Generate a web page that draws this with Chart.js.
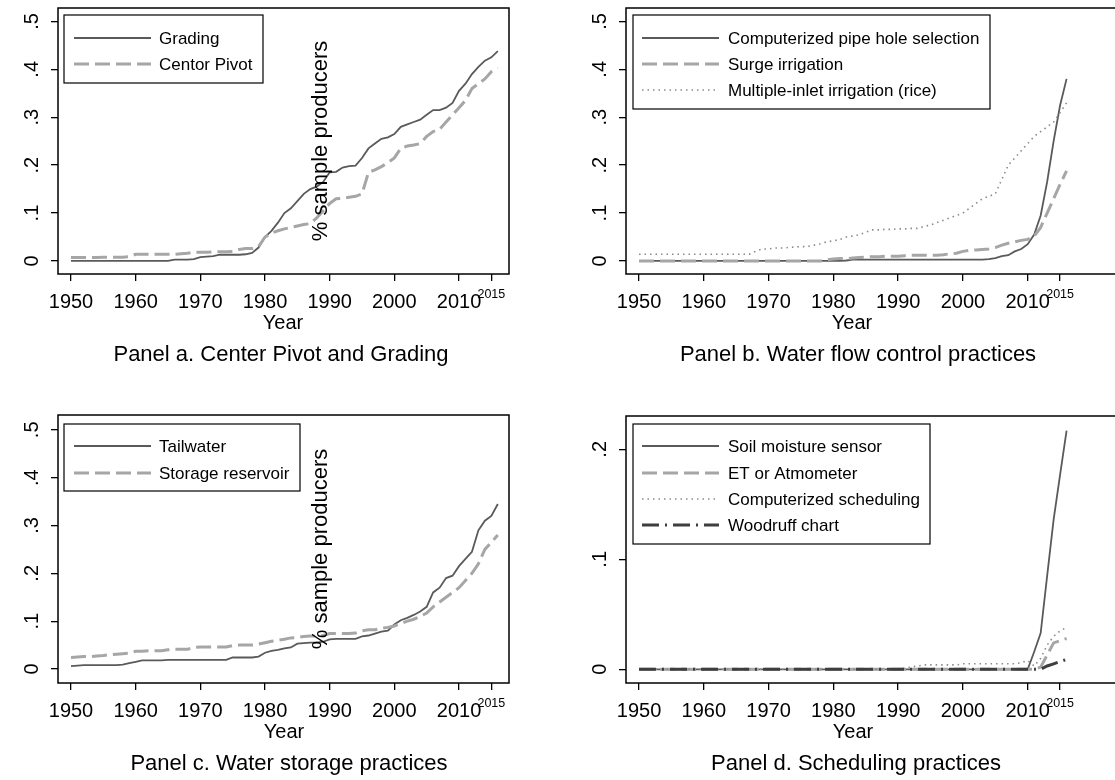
<!DOCTYPE html>
<html>
<head>
<meta charset="utf-8">
<script src="https://cdn.jsdelivr.net/npm/chart.js@4.4.0/dist/chart.umd.min.js"></script>
<style>
    body { margin: 0; width: 1115px; height: 780px; overflow: hidden; background: #fff; position: relative; }
    canvas { position: absolute; }
</style>
</head>
<body>
<canvas id="panel-a" width="556" height="390" style="left:0;top:0;width:556px;height:390px"></canvas>
<canvas id="panel-b" width="580" height="390" style="left:556px;top:0;width:580px;height:390px"></canvas>
<canvas id="panel-c" width="556" height="390" style="left:0;top:390px;width:556px;height:390px"></canvas>
<canvas id="panel-d" width="580" height="390" style="left:556px;top:390px;width:580px;height:390px"></canvas>
<script>
// years 1950..2016, one value per year in every series below
var years = []
for (var yr = 1950; yr <= 2016; yr++) years.push(yr)

var xTicks = [1950, 1960, 1970, 1980, 1990, 2000, 2010, 2015]
var yTicksHalf = [0, 0.1, 0.2, 0.3, 0.4, 0.5]
var yLabelsHalf = ['0', '.1', '.2', '.3', '.4', '.5']
var yTicksSched = [0, 0.1, 0.2]
var yLabelsSched = ['0', '.1', '.2']

// Panel a
var grading = [
    0, 0, 0, 0, 0, 0, 0, 0, 0, 0,
    0, 0, 0, 0, 0, 0, 0.003, 0.003, 0.003, 0.004,
    0.008, 0.009, 0.010, 0.013, 0.013, 0.013, 0.013, 0.014, 0.017, 0.028,
    0.050, 0.063, 0.080, 0.100, 0.110, 0.125, 0.140, 0.150, 0.155, 0.165,
    0.185, 0.186, 0.195, 0.198, 0.199, 0.215, 0.235, 0.245, 0.255, 0.258,
    0.265, 0.280, 0.285, 0.290, 0.295, 0.305, 0.315, 0.315, 0.320, 0.330,
    0.355, 0.370, 0.390, 0.405, 0.418, 0.425, 0.438]
var centerPivot = [
    0.007, 0.007, 0.007, 0.007, 0.007, 0.008, 0.008, 0.008, 0.008, 0.009,
    0.014, 0.014, 0.014, 0.014, 0.014, 0.014, 0.014, 0.015, 0.016, 0.018,
    0.018, 0.018, 0.019, 0.019, 0.019, 0.020, 0.024, 0.026, 0.026, 0.030,
    0.050, 0.058, 0.063, 0.067, 0.070, 0.073, 0.076, 0.078, 0.090, 0.105,
    0.120, 0.130, 0.131, 0.133, 0.135, 0.140, 0.185, 0.190, 0.197, 0.205,
    0.215, 0.235, 0.240, 0.242, 0.245, 0.260, 0.270, 0.275, 0.290, 0.305,
    0.320, 0.335, 0.360, 0.370, 0.380, 0.395, 0.402]

// Panel b
var pipeHole = [
    0, 0, 0, 0, 0, 0, 0, 0, 0, 0,
    0, 0, 0, 0, 0, 0, 0, 0, 0, 0,
    0, 0, 0, 0, 0, 0, 0, 0, 0, 0,
    0, 0, 0.001, 0.003, 0.003, 0.003, 0.003, 0.003, 0.003, 0.003,
    0.003, 0.003, 0.003, 0.003, 0.003, 0.003, 0.003, 0.003, 0.003, 0.003,
    0.003, 0.003, 0.003, 0.003, 0.004, 0.006, 0.010, 0.012, 0.020, 0.025,
    0.035, 0.055, 0.095, 0.165, 0.250, 0.325, 0.380]
var surge = [
    0, 0, 0, 0, 0, 0, 0, 0, 0, 0,
    0, 0, 0, 0, 0, 0, 0, 0, 0, 0,
    0, 0, 0, 0, 0, 0, 0, 0, 0, 0.002,
    0.004, 0.005, 0.005, 0.006, 0.007, 0.008, 0.009, 0.009, 0.010, 0.010,
    0.010, 0.011, 0.012, 0.012, 0.012, 0.012, 0.012, 0.013, 0.015, 0.016,
    0.020, 0.022, 0.023, 0.024, 0.025, 0.028, 0.033, 0.037, 0.040, 0.043,
    0.045, 0.052, 0.070, 0.100, 0.130, 0.160, 0.188]
var multiInlet = [
    0.014, 0.014, 0.014, 0.014, 0.014, 0.014, 0.014, 0.014, 0.014, 0.014,
    0.014, 0.014, 0.014, 0.014, 0.014, 0.014, 0.014, 0.014, 0.020, 0.025,
    0.025, 0.027, 0.027, 0.028, 0.029, 0.030, 0.030, 0.033, 0.036, 0.040,
    0.042, 0.045, 0.050, 0.052, 0.055, 0.060, 0.065, 0.065, 0.066, 0.066,
    0.067, 0.067, 0.068, 0.068, 0.072, 0.075, 0.080, 0.085, 0.090, 0.095,
    0.100, 0.110, 0.120, 0.130, 0.135, 0.140, 0.170, 0.200, 0.215, 0.230,
    0.245, 0.260, 0.270, 0.280, 0.290, 0.310, 0.330]

// Panel c
var tailwater = [
    0.006, 0.007, 0.008, 0.008, 0.008, 0.008, 0.008, 0.008, 0.009, 0.012,
    0.015, 0.018, 0.018, 0.018, 0.018, 0.019, 0.019, 0.019, 0.019, 0.019,
    0.019, 0.019, 0.019, 0.019, 0.019, 0.024, 0.024, 0.024, 0.024, 0.026,
    0.034, 0.038, 0.040, 0.043, 0.045, 0.053, 0.054, 0.055, 0.055, 0.057,
    0.062, 0.063, 0.063, 0.063, 0.063, 0.068, 0.070, 0.074, 0.078, 0.080,
    0.093, 0.102, 0.107, 0.113, 0.120, 0.130, 0.160, 0.170, 0.190, 0.195,
    0.215, 0.230, 0.245, 0.290, 0.310, 0.320, 0.345]
var storageRes = [
    0.024, 0.025, 0.026, 0.026, 0.027, 0.028, 0.030, 0.031, 0.032, 0.033,
    0.037, 0.037, 0.038, 0.038, 0.038, 0.040, 0.041, 0.041, 0.041, 0.045,
    0.046, 0.046, 0.046, 0.046, 0.046, 0.049, 0.050, 0.050, 0.050, 0.052,
    0.055, 0.058, 0.060, 0.062, 0.065, 0.066, 0.068, 0.069, 0.069, 0.070,
    0.074, 0.074, 0.074, 0.074, 0.075, 0.080, 0.082, 0.082, 0.085, 0.087,
    0.090, 0.095, 0.100, 0.104, 0.110, 0.117, 0.130, 0.140, 0.150, 0.160,
    0.170, 0.185, 0.200, 0.220, 0.250, 0.265, 0.280]

// Panel d
var soilMoisture = [
    0, 0, 0, 0, 0, 0, 0, 0, 0, 0,
    0, 0, 0, 0, 0, 0, 0, 0, 0, 0,
    0, 0, 0, 0, 0, 0, 0, 0, 0, 0,
    0, 0, 0, 0, 0, 0, 0, 0, 0, 0,
    0, 0, 0, 0, 0, 0, 0, 0, 0, 0,
    0, 0, 0, 0, 0, 0, 0, 0, 0, 0,
    0, 0.016, 0.033, 0.085, 0.136, 0.177, 0.217]
var etAtmometer = [
    0, 0, 0, 0, 0, 0, 0, 0, 0, 0,
    0, 0, 0, 0, 0, 0, 0, 0, 0, 0,
    0, 0, 0, 0, 0, 0, 0, 0, 0, 0,
    0, 0, 0, 0, 0, 0, 0, 0, 0, 0,
    0, 0, 0, 0, 0, 0, 0, 0, 0, 0,
    0, 0, 0, 0, 0, 0, 0, 0, 0, 0,
    0, 0, 0.002, 0.013, 0.024, 0.026, 0.028]
var compSched = [
    0, 0, 0, 0, 0, 0, 0, 0, 0, 0,
    0, 0, 0, 0, 0, 0, 0, 0, 0, 0,
    0, 0, 0, 0, 0, 0, 0, 0, 0, 0,
    0, 0, 0, 0, 0, 0, 0, 0, 0, 0,
    0, 0.001, 0.002, 0.003, 0.004, 0.004, 0.004, 0.004, 0.004, 0.004,
    0.005, 0.005, 0.005, 0.005, 0.005, 0.005, 0.005, 0.005, 0.005, 0.006,
    0.008, 0.003, 0.010, 0.022, 0.030, 0.035, 0.038]
var woodruff = [
    0, 0, 0, 0, 0, 0, 0, 0, 0, 0,
    0, 0, 0, 0, 0, 0, 0, 0, 0, 0,
    0, 0, 0, 0, 0, 0, 0, 0, 0, 0,
    0, 0, 0, 0, 0, 0, 0, 0, 0, 0,
    0, 0, 0, 0, 0, 0, 0, 0, 0, 0,
    0, 0, 0, 0, 0, 0, 0, 0, 0, 0,
    0, 0, 0, 0.003, 0.005, 0.007, 0.009]

var FONT = '"Liberation Sans", Arial, Helvetica, sans-serif'

var styles = {
    solid: { borderColor: '#5a5a5a', borderWidth: 1.8, borderDash: [] },
    dash: { borderColor: '#a6a6a6', borderWidth: 3, borderDash: [15, 6] },
    dot: { borderColor: '#8a8a8a', borderWidth: 1.6, borderDash: [1.5, 4] },
    dashdot: { borderColor: '#3e3e3e', borderWidth: 3, borderDash: [17, 6, 2, 6] }
}

function toPoints(vals) {
    return vals.map((v, i) => ({ x: years[i], y: v }))
}

// frame, tick labels, titles and the boxed legend, stata style
var decor = {
    id: 'decor',
    afterDraw(chart, args, o) {
        var c = chart.ctx
        var a = chart.chartArea
        var xs = chart.scales.x
        var ys = chart.scales.y
        c.save()
        c.strokeStyle = '#000'
        c.lineWidth = 1.5
        c.setLineDash([])
        c.strokeRect(a.left, a.top, a.right - a.left, a.bottom - a.top)

        c.fillStyle = '#000'
        c.textAlign = 'center'
        c.textBaseline = 'alphabetic'
        xTicks.forEach(v => {
            var px = xs.getPixelForValue(v)
            if (v === 2015) {
                c.font = '12.5px ' + FONT
                c.fillText(String(v), px, a.bottom + 24)
            } else {
                c.font = '20px ' + FONT
                c.fillText(String(v), px, a.bottom + 34)
            }
        })
        o.yTicks.forEach((v, i) => {
            var py = ys.getPixelForValue(v)
            c.save()
            c.translate(a.left - 20, py)
            c.rotate(-Math.PI / 2)
            c.font = '20px ' + FONT
            c.fillText(o.yLabels[i], 0, 0)
            c.restore()
        })

        c.font = '20px ' + FONT
        c.fillText('Year', o.yearX, a.bottom + 55)
        c.font = '22px ' + FONT
        c.fillText(o.title, o.titleX, a.bottom + 87)

        if (o.note) {
            c.save()
            c.translate(o.note.x, o.note.y)
            c.rotate(-Math.PI / 2)
            c.font = '22px ' + FONT
            c.textBaseline = 'middle'
            c.fillText('% sample producers', 0, 0)
            c.restore()
        }

        // legend box
        var lg = o.legend
        c.fillStyle = '#fff'
        c.fillRect(lg.x1, lg.y1, lg.x2 - lg.x1, lg.y2 - lg.y1)
        c.strokeStyle = '#000'
        c.lineWidth = 1.2
        c.strokeRect(lg.x1, lg.y1, lg.x2 - lg.x1, lg.y2 - lg.y1)
        c.font = '17px ' + FONT
        c.textAlign = 'left'
        c.textBaseline = 'middle'
        chart.data.datasets.forEach((ds, i) => {
            var ry = lg.rows[i]
            c.strokeStyle = ds.borderColor
            c.lineWidth = ds.borderWidth
            c.setLineDash(ds.borderDash)
            c.beginPath()
            c.moveTo(lg.lineX1, ry)
            c.lineTo(lg.lineX2, ry)
            c.stroke()
            c.setLineDash([])
            c.fillStyle = '#000'
            c.fillText(ds.label, lg.textX, ry + 1)
        })
        c.restore()
    }
}

function makePanel(id, p) {
    var n = p.series.length
    var datasets = p.series.map((s, i) => Object.assign({
        label: s.label,
        data: toPoints(s.values),
        pointRadius: 0,
        tension: 0,
        fill: false,
        order: n - i
    }, styles[s.style]))

    var canvas = document.getElementById(id)
    var W = canvas.width, H = canvas.height
    var ctx = canvas.getContext('2d')
    return new Chart(ctx, {
        type: 'line',
        data: { datasets: datasets },
        options: {
            responsive: false,
            animation: false,
            layout: { padding: { top: p.area.top, right: W - p.area.right, bottom: 0, left: 0 } },
            plugins: {
                legend: { display: false },
                tooltip: { enabled: false },
                decor: {
                    yTicks: p.yTicks, yLabels: p.yLabels,
                    title: p.title, titleX: p.titleX, yearX: p.yearX,
                    note: p.note, legend: p.legend
                }
            },
            scales: {
                x: {
                    type: 'linear',
                    min: p.xMin, max: p.xMax,
                    afterBuildTicks: s => { s.ticks = xTicks.map(v => ({ value: v })) },
                    afterFit: s => { s.height = H - p.area.bottom },
                    ticks: { display: false },
                    border: { display: false },
                    grid: { drawOnChartArea: false, drawTicks: true, tickLength: 7, color: '#000', lineWidth: 1.3 }
                },
                y: {
                    min: p.yMin, max: p.yMax,
                    afterBuildTicks: s => { s.ticks = p.yTicks.map(v => ({ value: v })) },
                    afterFit: s => { s.width = p.area.left },
                    ticks: { display: false },
                    border: { display: false },
                    grid: { drawOnChartArea: false, drawTicks: true, tickLength: 7, color: '#000', lineWidth: 1.3 }
                }
            }
        },
        plugins: [decor]
    })
}

makePanel('panel-a', {
    area: { left: 58, right: 509, top: 8, bottom: 274 },
    xMin: 1947.99, xMax: 2017.73, yMin: -0.0272, yMax: 0.528,
    yTicks: yTicksHalf, yLabels: yLabelsHalf,
    title: 'Panel a. Center Pivot and Grading', titleX: 281, yearX: 283,
    note: { x: 321, y: 141 },
    legend: { x1: 64, y1: 15, x2: 263, y2: 83, rows: [38, 64], lineX1: 74, lineX2: 151, textX: 159 },
    series: [
        { label: 'Grading', values: grading, style: 'solid' },
        { label: 'Centor Pivot', values: centerPivot, style: 'dash' }
    ]
})

makePanel('panel-b', {
    area: { left: 70, right: 565, top: 8, bottom: 274 },
    xMin: 1947.99, xMax: 2024.4, yMin: -0.0272, yMax: 0.528,
    yTicks: yTicksHalf, yLabels: yLabelsHalf,
    title: 'Panel b. Water flow control practices', titleX: 302, yearX: 296,
    note: null,
    legend: { x1: 77, y1: 15, x2: 434, y2: 109, rows: [38, 64, 90], lineX1: 86, lineX2: 163, textX: 172 },
    series: [
        { label: 'Computerized pipe hole selection', values: pipeHole, style: 'solid' },
        { label: 'Surge irrigation', values: surge, style: 'dash' },
        { label: 'Multiple-inlet irrigation (rice)', values: multiInlet, style: 'dot' }
    ]
})

makePanel('panel-c', {
    area: { left: 58, right: 509, top: 25, bottom: 293 },
    xMin: 1947.99, xMax: 2017.73, yMin: -0.0293, yMax: 0.531,
    yTicks: yTicksHalf, yLabels: yLabelsHalf,
    title: 'Panel c. Water storage practices', titleX: 289, yearX: 284,
    note: { x: 321, y: 159 },
    legend: { x1: 64, y1: 34, x2: 300, y2: 101, rows: [56, 83], lineX1: 74, lineX2: 151, textX: 159 },
    series: [
        { label: 'Tailwater', values: tailwater, style: 'solid' },
        { label: 'Storage reservoir', values: storageRes, style: 'dash' }
    ]
})

makePanel('panel-d', {
    area: { left: 70, right: 565, top: 26, bottom: 293 },
    xMin: 1947.99, xMax: 2024.4, yMin: -0.01245, yMax: 0.2303,
    yTicks: yTicksSched, yLabels: yLabelsSched,
    title: 'Panel d. Scheduling practices', titleX: 300, yearX: 297,
    note: null,
    legend: { x1: 77, y1: 34, x2: 374, y2: 154, rows: [56, 83, 109, 135], lineX1: 86, lineX2: 163, textX: 172 },
    series: [
        { label: 'Soil moisture sensor', values: soilMoisture, style: 'solid' },
        { label: 'ET or Atmometer', values: etAtmometer, style: 'dash' },
        { label: 'Computerized scheduling', values: compSched, style: 'dot' },
        { label: 'Woodruff chart', values: woodruff, style: 'dashdot' }
    ]
})
</script>
</body>
</html>
